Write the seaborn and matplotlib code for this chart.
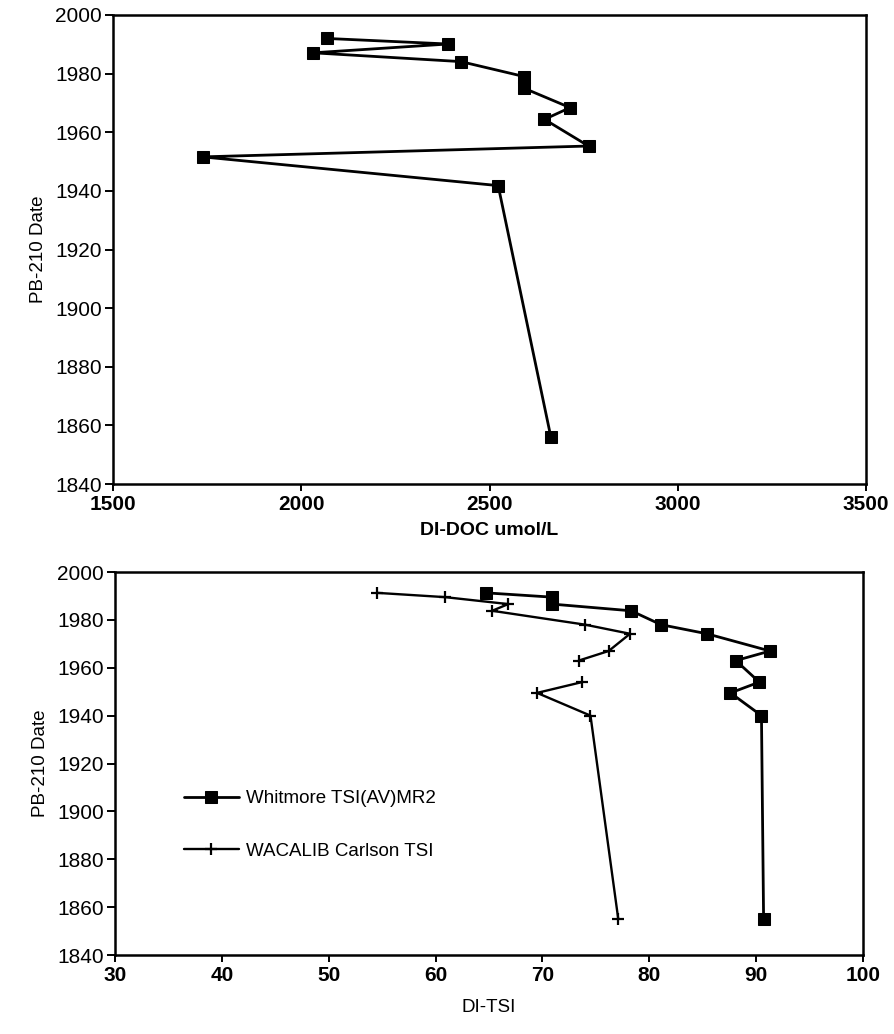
import matplotlib
matplotlib.use("Agg")
import matplotlib.pyplot as plt
import seaborn as sns
import pandas as pd

# ---- data ----
top_dates = [1992.0, 1990.1, 1987.1, 1984.1, 1979.0, 1975.0, 1968.4, 1964.4, 1955.3, 1951.6, 1941.8, 1856.0]
di_doc = [2068, 2390, 2032, 2424, 2592, 2592, 2714, 2646, 2763, 1738, 2523, 2663]

bot_dates = [1991.3, 1989.5, 1986.6, 1983.8, 1978.0, 1974.2, 1967.0, 1963.0, 1954.0, 1949.5, 1940.0, 1855.0]
whitmore = [64.7, 70.9, 70.9, 78.3, 81.1, 85.4, 91.3, 88.1, 90.3, 87.6, 90.5, 90.7]
wacalib = [54.5, 60.9, 66.8, 65.3, 74.0, 78.2, 76.2, 73.4, 73.7, 69.5, 74.5, 77.1]
wacalib_segment = [0, 0, 0, 0, 0, 0, 0, 0, 1, 1, 1, 1]

top_xticks = [1500, 2000, 2500, 3000, 3500]
bot_xticks = [30, 40, 50, 60, 70, 80, 90, 100]
yticks = [1840, 1860, 1880, 1900, 1920, 1940, 1960, 1980, 2000]

sns.set_style("ticks")
plt.rcParams['font.family'] = ['Liberation Sans', 'DejaVu Sans']
plt.rcParams.update({"text.color": "black", "axes.labelcolor": "black",
                     "xtick.color": "black", "ytick.color": "black",
                     "axes.edgecolor": "black"})

fig = plt.figure(figsize=(8.94, 10.34), dpi=100)
ax1 = fig.add_axes([0.1264, 0.5319, 0.8423, 0.4536])
ax2 = fig.add_axes([0.1286, 0.0764, 0.8367, 0.3704])

df_top = pd.DataFrame({"x": di_doc, "Date": top_dates})
sns.lineplot(data=df_top, x="x", y="Date", orient="y", estimator=None, sort=True,
             color="black", linewidth=2.0, marker="s", markersize=9,
             markeredgecolor="black", ax=ax1)

df_wh = pd.DataFrame({"x": whitmore, "Date": bot_dates})
sns.lineplot(data=df_wh, x="x", y="Date", orient="y", estimator=None, sort=True,
             color="black", linewidth=2.0, marker="s", markersize=9,
             markeredgecolor="black", ax=ax2, label="Whitmore TSI(AV)MR2")

df_wa = pd.DataFrame({"x": wacalib, "Date": bot_dates, "seg": wacalib_segment})
for i, (seg, sub) in enumerate(df_wa.groupby("seg")):
    sns.lineplot(data=sub, x="x", y="Date", orient="y", estimator=None, sort=True,
                 color="black", linewidth=1.7, marker="+", markersize=8,
                 markeredgewidth=1.6, markeredgecolor="black", ax=ax2,
                 label="WACALIB Carlson TSI" if i == 0 else "_nolegend_")

for ax, xt in ((ax1, top_xticks), (ax2, bot_xticks)):
    ax.set_xlim(xt[0], xt[-1])
    ax.set_xticks(xt)
    ax.set_ylim(1840, 2000)
    ax.set_yticks(yticks)
    ax.set_ylabel("PB-210 Date", fontsize=13.5, labelpad=6)
    for s in ax.spines.values():
        s.set_linewidth(1.8)
        s.set_color("black")
        s.set_visible(True)
    ax.tick_params(axis="y", direction="out", length=6, width=1.4, pad=2, labelsize=15)
    ax.tick_params(axis="x", direction="out", length=5, width=1.4, pad=3, labelsize=15)
    for lab in ax.get_xticklabels():
        lab.set_fontweight("bold")

ax1.set_xlabel("DI-DOC umol/L", fontsize=14, fontweight="bold", labelpad=6)
ax2.set_xlabel("DI-TSI", fontsize=13.5, labelpad=10)

ax2.legend(loc="upper left", bbox_to_anchor=(0.07, 0.475), frameon=False,
           fontsize=13.5, handlelength=2.9, handletextpad=0.4, labelspacing=1.9)

fig.savefig("out.png", dpi=100, facecolor="white")
